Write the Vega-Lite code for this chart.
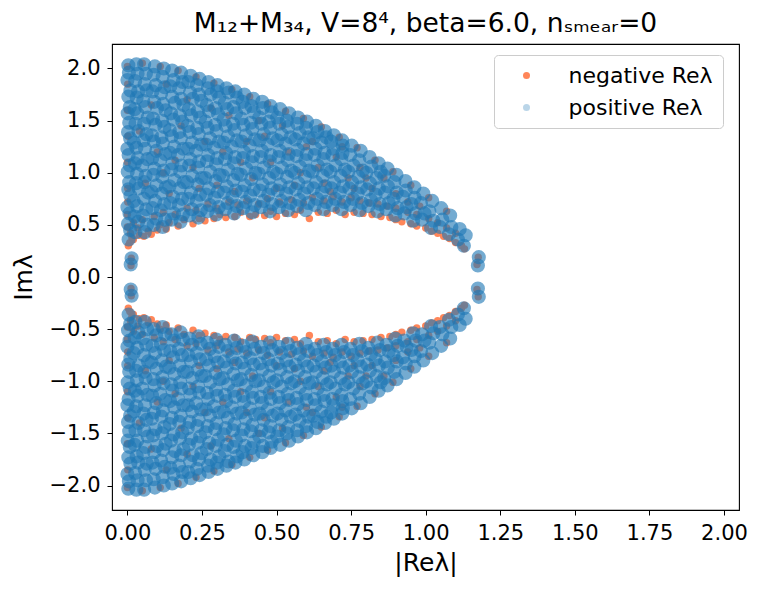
{
"$schema": "https://vega.github.io/schema/vega-lite/v6.json",
"width": 627, "height": 466,
"autosize": {"type": "none"},
"padding": {"left": 112, "top": 44, "right": 23, "bottom": 81},
"background": "white",
"title": {"text": "M₁₂+M₃₄, V=8⁴, beta=6.0, nₛₘₑₐᵣ=0", "font": "DejaVu Sans", "fontSize": 26.5, "fontWeight": "normal", "color": "black", "anchor": "middle", "offset": 7},
"datasets": {
"neg": [
{"x":0.003,"y":0.30},{"x":0.008,"y":0.33},{"x":0.015,"y":0.38},{"x":0.010,"y":0.42},{"x":0.02,"y":0.36},{"x":0.04,"y":0.40},{"x":0.035,"y":0.47},{"x":0.055,"y":0.39},{"x":0.07,"y":0.44},{"x":0.08,"y":0.41},{"x":0.10,"y":0.45},{"x":0.11,"y":0.50},{"x":0.13,"y":0.46},{"x":0.14,"y":0.52},{"x":0.17,"y":0.49},{"x":0.19,"y":0.55},{"x":0.22,"y":0.51},{"x":0.24,"y":0.56},{"x":0.26,"y":0.54},{"x":0.29,"y":0.56},{"x":0.31,"y":0.60},{"x":0.33,"y":0.57},{"x":0.36,"y":0.58},{"x":0.38,"y":0.62},{"x":0.41,"y":0.58},{"x":0.43,"y":0.60},{"x":0.46,"y":0.59},{"x":0.48,"y":0.63},{"x":0.50,"y":0.58},{"x":0.53,"y":0.61},{"x":0.56,"y":0.60},{"x":0.58,"y":0.64},{"x":0.61,"y":0.56},{"x":0.64,"y":0.62},{"x":0.67,"y":0.61},{"x":0.70,"y":0.64},{"x":0.73,"y":0.60},{"x":0.76,"y":0.62},{"x":0.79,"y":0.61},{"x":0.82,"y":0.60},{"x":0.85,"y":0.58},{"x":0.88,"y":0.57},{"x":0.90,"y":0.55},{"x":0.92,"y":0.53},{"x":0.95,"y":0.51},{"x":0.97,"y":0.49},{"x":1.00,"y":0.47},{"x":1.02,"y":0.44},{"x":1.04,"y":0.42},{"x":1.06,"y":0.39},{"x":1.08,"y":0.37},{"x":1.10,"y":0.33},{"x":1.12,"y":0.30},{"x":1.13,"y":0.27},{"x":1.176,"y":0.19},{"x":1.172,"y":0.12},{"x":0.013,"y":0.18},{"x":0.012,"y":0.11},
{"x":0.02,"y":0.52},{"x":0.05,"y":0.55},{"x":0.09,"y":0.58},{"x":0.12,"y":0.62},{"x":0.16,"y":0.60},{"x":0.20,"y":0.66},{"x":0.23,"y":0.64},{"x":0.27,"y":0.70},{"x":0.30,"y":0.66},{"x":0.34,"y":0.72},{"x":0.37,"y":0.69},{"x":0.40,"y":0.73},{"x":0.44,"y":0.70},{"x":0.47,"y":0.75},{"x":0.51,"y":0.72},{"x":0.55,"y":0.74},{"x":0.59,"y":0.71},{"x":0.62,"y":0.76},{"x":0.66,"y":0.73},{"x":0.69,"y":0.77},{"x":0.72,"y":0.72},{"x":0.75,"y":0.76},{"x":0.78,"y":0.73},{"x":0.81,"y":0.71},{"x":0.84,"y":0.70},{"x":0.87,"y":0.68},{"x":0.90,"y":0.66},{"x":0.94,"y":0.62},{"x":0.97,"y":0.60},{"x":1.01,"y":0.56},{"x":1.04,"y":0.52},{"x":1.07,"y":0.47},{"x":1.10,"y":0.42},
{"x":0.00,"y":2.02},{"x":0.05,"y":2.05},{"x":0.11,"y":2.02},{"x":0.17,"y":1.98},{"x":0.23,"y":1.92},{"x":0.29,"y":1.86},{"x":0.35,"y":1.80},{"x":0.41,"y":1.73},{"x":0.47,"y":1.66},{"x":0.53,"y":1.59},{"x":0.59,"y":1.52},{"x":0.65,"y":1.44},{"x":0.71,"y":1.34},{"x":0.77,"y":1.24},{"x":0.83,"y":1.12},{"x":0.89,"y":1.01},{"x":0.95,"y":0.88},{"x":1.01,"y":0.76},{"x":1.07,"y":0.63},
{"x":0.000,"y":0.60},{"x":0.001,"y":0.85},{"x":0.000,"y":1.10},{"x":0.002,"y":1.35},{"x":0.000,"y":1.60},{"x":0.001,"y":1.85},{"x":0.000,"y":0.48},{"x":0.001,"y":0.72},
{"x":0.06,"y":0.90},{"x":0.10,"y":1.20},{"x":0.14,"y":0.80},{"x":0.18,"y":1.45},{"x":0.08,"y":1.65},{"x":0.22,"y":1.05},{"x":0.26,"y":1.30},{"x":0.30,"y":0.88},{"x":0.34,"y":1.55},{"x":0.13,"y":1.85},{"x":0.38,"y":1.10},{"x":0.42,"y":0.95},{"x":0.46,"y":1.35},{"x":0.50,"y":0.85},{"x":0.54,"y":1.20},{"x":0.58,"y":1.00},{"x":0.62,"y":1.30},{"x":0.66,"y":0.90},{"x":0.70,"y":1.15},{"x":0.74,"y":0.95},{"x":0.78,"y":1.05},{"x":0.82,"y":0.85},{"x":0.86,"y":0.95},{"x":0.90,"y":0.80},{"x":0.94,"y":0.72},{"x":0.98,"y":0.68},{"x":0.04,"y":1.40},{"x":0.16,"y":1.12},{"x":0.20,"y":1.70},{"x":0.28,"y":1.62},{"x":0.32,"y":1.20},{"x":0.36,"y":0.82},{"x":0.44,"y":1.50},{"x":0.48,"y":1.10},{"x":0.52,"y":1.45},{"x":0.56,"y":0.88},{"x":0.60,"y":1.25},{"x":0.64,"y":1.05},{"x":0.68,"y":0.82},{"x":0.72,"y":1.25},{"x":0.76,"y":0.85},{"x":0.80,"y":0.95},{"x":0.24,"y":0.85},{"x":0.12,"y":1.00},{"x":0.40,"y":1.30},
{"x":0.003,"y":-0.30},{"x":0.008,"y":-0.33},{"x":0.015,"y":-0.38},{"x":0.010,"y":-0.42},{"x":0.02,"y":-0.36},{"x":0.04,"y":-0.40},{"x":0.035,"y":-0.47},{"x":0.055,"y":-0.39},{"x":0.07,"y":-0.44},{"x":0.08,"y":-0.41},{"x":0.10,"y":-0.45},{"x":0.11,"y":-0.50},{"x":0.13,"y":-0.46},{"x":0.14,"y":-0.52},{"x":0.17,"y":-0.49},{"x":0.19,"y":-0.55},{"x":0.22,"y":-0.51},{"x":0.24,"y":-0.56},{"x":0.26,"y":-0.54},{"x":0.29,"y":-0.56},{"x":0.31,"y":-0.60},{"x":0.33,"y":-0.57},{"x":0.36,"y":-0.58},{"x":0.38,"y":-0.62},{"x":0.41,"y":-0.58},{"x":0.43,"y":-0.60},{"x":0.46,"y":-0.59},{"x":0.48,"y":-0.63},{"x":0.50,"y":-0.58},{"x":0.53,"y":-0.61},{"x":0.56,"y":-0.60},{"x":0.58,"y":-0.64},{"x":0.61,"y":-0.56},{"x":0.64,"y":-0.62},{"x":0.67,"y":-0.61},{"x":0.70,"y":-0.64},{"x":0.73,"y":-0.60},{"x":0.76,"y":-0.62},{"x":0.79,"y":-0.61},{"x":0.82,"y":-0.60},{"x":0.85,"y":-0.58},{"x":0.88,"y":-0.57},{"x":0.90,"y":-0.55},{"x":0.92,"y":-0.53},{"x":0.95,"y":-0.51},{"x":0.97,"y":-0.49},{"x":1.00,"y":-0.47},{"x":1.02,"y":-0.44},{"x":1.04,"y":-0.42},{"x":1.06,"y":-0.39},{"x":1.08,"y":-0.37},{"x":1.10,"y":-0.33},{"x":1.12,"y":-0.30},{"x":1.13,"y":-0.27},{"x":1.176,"y":-0.19},{"x":1.172,"y":-0.12},{"x":0.013,"y":-0.18},{"x":0.012,"y":-0.11},
{"x":0.02,"y":-0.52},{"x":0.05,"y":-0.55},{"x":0.09,"y":-0.58},{"x":0.12,"y":-0.62},{"x":0.16,"y":-0.60},{"x":0.20,"y":-0.66},{"x":0.23,"y":-0.64},{"x":0.27,"y":-0.70},{"x":0.30,"y":-0.66},{"x":0.34,"y":-0.72},{"x":0.37,"y":-0.69},{"x":0.40,"y":-0.73},{"x":0.44,"y":-0.70},{"x":0.47,"y":-0.75},{"x":0.51,"y":-0.72},{"x":0.55,"y":-0.74},{"x":0.59,"y":-0.71},{"x":0.62,"y":-0.76},{"x":0.66,"y":-0.73},{"x":0.69,"y":-0.77},{"x":0.72,"y":-0.72},{"x":0.75,"y":-0.76},{"x":0.78,"y":-0.73},{"x":0.81,"y":-0.71},{"x":0.84,"y":-0.70},{"x":0.87,"y":-0.68},{"x":0.90,"y":-0.66},{"x":0.94,"y":-0.62},{"x":0.97,"y":-0.60},{"x":1.01,"y":-0.56},{"x":1.04,"y":-0.52},{"x":1.07,"y":-0.47},{"x":1.10,"y":-0.42},
{"x":0.00,"y":-2.02},{"x":0.05,"y":-2.05},{"x":0.11,"y":-2.02},{"x":0.17,"y":-1.98},{"x":0.23,"y":-1.92},{"x":0.29,"y":-1.86},{"x":0.35,"y":-1.80},{"x":0.41,"y":-1.73},{"x":0.47,"y":-1.66},{"x":0.53,"y":-1.59},{"x":0.59,"y":-1.52},{"x":0.65,"y":-1.44},{"x":0.71,"y":-1.34},{"x":0.77,"y":-1.24},{"x":0.83,"y":-1.12},{"x":0.89,"y":-1.01},{"x":0.95,"y":-0.88},{"x":1.01,"y":-0.76},{"x":1.07,"y":-0.63},
{"x":0.000,"y":-0.60},{"x":0.001,"y":-0.85},{"x":0.000,"y":-1.10},{"x":0.002,"y":-1.35},{"x":0.000,"y":-1.60},{"x":0.001,"y":-1.85},{"x":0.000,"y":-0.48},{"x":0.001,"y":-0.72},
{"x":0.06,"y":-0.90},{"x":0.10,"y":-1.20},{"x":0.14,"y":-0.80},{"x":0.18,"y":-1.45},{"x":0.08,"y":-1.65},{"x":0.22,"y":-1.05},{"x":0.26,"y":-1.30},{"x":0.30,"y":-0.88},{"x":0.34,"y":-1.55},{"x":0.13,"y":-1.85},{"x":0.38,"y":-1.10},{"x":0.42,"y":-0.95},{"x":0.46,"y":-1.35},{"x":0.50,"y":-0.85},{"x":0.54,"y":-1.20},{"x":0.58,"y":-1.00},{"x":0.62,"y":-1.30},{"x":0.66,"y":-0.90},{"x":0.70,"y":-1.15},{"x":0.74,"y":-0.95},{"x":0.78,"y":-1.05},{"x":0.82,"y":-0.85},{"x":0.86,"y":-0.95},{"x":0.90,"y":-0.80},{"x":0.94,"y":-0.72},{"x":0.98,"y":-0.68},{"x":0.04,"y":-1.40},{"x":0.16,"y":-1.12},{"x":0.20,"y":-1.70},{"x":0.28,"y":-1.62},{"x":0.32,"y":-1.20},{"x":0.36,"y":-0.82},{"x":0.44,"y":-1.50},{"x":0.48,"y":-1.10},{"x":0.52,"y":-1.45},{"x":0.56,"y":-0.88},{"x":0.60,"y":-1.25},{"x":0.64,"y":-1.05},{"x":0.68,"y":-0.82},{"x":0.72,"y":-1.25},{"x":0.76,"y":-0.85},{"x":0.80,"y":-0.95},{"x":0.24,"y":-0.85},{"x":0.12,"y":-1.00},{"x":0.40,"y":-1.30}
],
"pos": [
{"x":0.004,"y":0.36},{"x":0.009,"y":0.45},{"x":0.002,"y":0.51},{"x":0.007,"y":0.61},{"x":0.000,"y":0.67},{"x":0.010,"y":0.78},{"x":0.003,"y":0.84},{"x":0.006,"y":0.91},{"x":0.001,"y":1.01},{"x":0.008,"y":1.07},{"x":0.004,"y":1.17},{"x":0.000,"y":1.23},{"x":0.009,"y":1.33},{"x":0.002,"y":1.39},{"x":0.006,"y":1.48},{"x":0.001,"y":1.57},{"x":0.008,"y":1.63},{"x":0.003,"y":1.73},{"x":0.010,"y":1.79},{"x":0.000,"y":1.89},{"x":0.005,"y":1.96},{"x":0.003,"y":2.03},
{"x":0.027,"y":0.43},{"x":0.036,"y":0.53},{"x":0.024,"y":0.58},{"x":0.033,"y":0.68},{"x":0.021,"y":0.73},{"x":0.038,"y":0.85},{"x":0.029,"y":0.90},{"x":0.032,"y":0.99},{"x":0.025,"y":1.09},{"x":0.035,"y":1.14},{"x":0.030,"y":1.24},{"x":0.022,"y":1.29},{"x":0.037,"y":1.40},{"x":0.027,"y":1.47},{"x":0.033,"y":1.57},{"x":0.024,"y":1.61},{"x":0.031,"y":1.72},{"x":0.036,"y":1.78},{"x":0.026,"y":1.88},{"x":0.034,"y":1.95},{"x":0.030,"y":2.04},
{"x":0.058,"y":0.43},{"x":0.066,"y":0.50},{"x":0.052,"y":0.59},{"x":0.063,"y":0.65},{"x":0.055,"y":0.75},{"x":0.069,"y":0.81},{"x":0.057,"y":0.91},{"x":0.061,"y":0.97},{"x":0.050,"y":1.07},{"x":0.067,"y":1.13},{"x":0.059,"y":1.23},{"x":0.054,"y":1.31},{"x":0.064,"y":1.37},{"x":0.056,"y":1.47},{"x":0.068,"y":1.53},{"x":0.060,"y":1.63},{"x":0.053,"y":1.69},{"x":0.065,"y":1.79},{"x":0.058,"y":1.85},{"x":0.062,"y":1.95},{"x":0.056,"y":2.04},
{"x":0.088,"y":0.50},{"x":0.096,"y":0.56},{"x":0.084,"y":0.66},{"x":0.093,"y":0.73},{"x":0.081,"y":0.82},{"x":0.098,"y":0.88},{"x":0.087,"y":0.98},{"x":0.091,"y":1.04},{"x":0.083,"y":1.14},{"x":0.097,"y":1.21},{"x":0.089,"y":1.30},{"x":0.082,"y":1.36},{"x":0.094,"y":1.46},{"x":0.086,"y":1.52},{"x":0.099,"y":1.62},{"x":0.090,"y":1.68},{"x":0.084,"y":1.78},{"x":0.095,"y":1.84},{"x":0.088,"y":1.94},{"x":0.092,"y":2.02},
{"x":0.118,"y":0.48},{"x":0.126,"y":0.55},{"x":0.112,"y":0.64},{"x":0.123,"y":0.70},{"x":0.115,"y":0.80},{"x":0.129,"y":0.86},{"x":0.117,"y":0.96},{"x":0.121,"y":1.02},{"x":0.110,"y":1.12},{"x":0.127,"y":1.18},{"x":0.119,"y":1.28},{"x":0.114,"y":1.34},{"x":0.124,"y":1.44},{"x":0.116,"y":1.50},{"x":0.128,"y":1.60},{"x":0.120,"y":1.66},{"x":0.113,"y":1.76},{"x":0.125,"y":1.82},{"x":0.118,"y":1.92},{"x":0.122,"y":2.00},
{"x":0.148,"y":0.55},{"x":0.156,"y":0.61},{"x":0.144,"y":0.71},{"x":0.153,"y":0.77},{"x":0.141,"y":0.87},{"x":0.158,"y":0.93},{"x":0.147,"y":1.03},{"x":0.151,"y":1.09},{"x":0.143,"y":1.19},{"x":0.157,"y":1.25},{"x":0.149,"y":1.35},{"x":0.142,"y":1.41},{"x":0.154,"y":1.51},{"x":0.146,"y":1.57},{"x":0.159,"y":1.67},{"x":0.150,"y":1.73},{"x":0.144,"y":1.83},{"x":0.155,"y":1.89},{"x":0.150,"y":1.98},
{"x":0.178,"y":0.53},{"x":0.186,"y":0.60},{"x":0.172,"y":0.69},{"x":0.183,"y":0.75},{"x":0.175,"y":0.85},{"x":0.189,"y":0.91},{"x":0.177,"y":1.01},{"x":0.181,"y":1.07},{"x":0.170,"y":1.17},{"x":0.187,"y":1.23},{"x":0.179,"y":1.33},{"x":0.174,"y":1.39},{"x":0.184,"y":1.49},{"x":0.176,"y":1.55},{"x":0.188,"y":1.65},{"x":0.180,"y":1.71},{"x":0.173,"y":1.81},{"x":0.185,"y":1.87},{"x":0.180,"y":1.96},
{"x":0.208,"y":0.59},{"x":0.216,"y":0.65},{"x":0.204,"y":0.75},{"x":0.213,"y":0.81},{"x":0.201,"y":0.91},{"x":0.218,"y":0.97},{"x":0.207,"y":1.07},{"x":0.211,"y":1.13},{"x":0.203,"y":1.23},{"x":0.217,"y":1.29},{"x":0.209,"y":1.39},{"x":0.202,"y":1.45},{"x":0.214,"y":1.55},{"x":0.206,"y":1.61},{"x":0.219,"y":1.71},{"x":0.210,"y":1.77},{"x":0.204,"y":1.87},{"x":0.212,"y":1.93},
{"x":0.238,"y":0.57},{"x":0.246,"y":0.64},{"x":0.232,"y":0.73},{"x":0.243,"y":0.79},{"x":0.235,"y":0.89},{"x":0.249,"y":0.95},{"x":0.237,"y":1.05},{"x":0.241,"y":1.11},{"x":0.230,"y":1.21},{"x":0.247,"y":1.27},{"x":0.239,"y":1.37},{"x":0.234,"y":1.43},{"x":0.244,"y":1.53},{"x":0.236,"y":1.59},{"x":0.248,"y":1.69},{"x":0.240,"y":1.75},{"x":0.233,"y":1.84},{"x":0.242,"y":1.90},
{"x":0.268,"y":0.63},{"x":0.276,"y":0.69},{"x":0.264,"y":0.79},{"x":0.273,"y":0.85},{"x":0.261,"y":0.95},{"x":0.278,"y":1.01},{"x":0.267,"y":1.11},{"x":0.271,"y":1.17},{"x":0.263,"y":1.27},{"x":0.277,"y":1.33},{"x":0.269,"y":1.43},{"x":0.262,"y":1.49},{"x":0.274,"y":1.59},{"x":0.266,"y":1.65},{"x":0.279,"y":1.75},{"x":0.270,"y":1.81},{"x":0.272,"y":1.87},
{"x":0.298,"y":0.60},{"x":0.306,"y":0.67},{"x":0.292,"y":0.76},{"x":0.303,"y":0.82},{"x":0.295,"y":0.92},{"x":0.309,"y":0.98},{"x":0.297,"y":1.08},{"x":0.301,"y":1.14},{"x":0.290,"y":1.24},{"x":0.307,"y":1.30},{"x":0.299,"y":1.40},{"x":0.294,"y":1.46},{"x":0.304,"y":1.56},{"x":0.296,"y":1.62},{"x":0.308,"y":1.72},{"x":0.300,"y":1.78},{"x":0.302,"y":1.84},
{"x":0.328,"y":0.65},{"x":0.336,"y":0.71},{"x":0.324,"y":0.81},{"x":0.333,"y":0.87},{"x":0.321,"y":0.97},{"x":0.338,"y":1.03},{"x":0.327,"y":1.13},{"x":0.331,"y":1.19},{"x":0.323,"y":1.29},{"x":0.337,"y":1.35},{"x":0.329,"y":1.45},{"x":0.322,"y":1.51},{"x":0.334,"y":1.61},{"x":0.326,"y":1.67},{"x":0.339,"y":1.77},{"x":0.332,"y":1.81},
{"x":0.358,"y":0.61},{"x":0.366,"y":0.68},{"x":0.352,"y":0.77},{"x":0.363,"y":0.83},{"x":0.355,"y":0.93},{"x":0.369,"y":0.99},{"x":0.357,"y":1.09},{"x":0.361,"y":1.15},{"x":0.350,"y":1.25},{"x":0.367,"y":1.31},{"x":0.359,"y":1.41},{"x":0.354,"y":1.47},{"x":0.364,"y":1.57},{"x":0.356,"y":1.63},{"x":0.368,"y":1.72},{"x":0.362,"y":1.78},
{"x":0.388,"y":0.66},{"x":0.396,"y":0.72},{"x":0.384,"y":0.82},{"x":0.393,"y":0.88},{"x":0.381,"y":0.98},{"x":0.398,"y":1.04},{"x":0.387,"y":1.14},{"x":0.391,"y":1.20},{"x":0.383,"y":1.30},{"x":0.397,"y":1.36},{"x":0.389,"y":1.46},{"x":0.382,"y":1.52},{"x":0.394,"y":1.62},{"x":0.386,"y":1.68},{"x":0.392,"y":1.75},
{"x":0.418,"y":0.62},{"x":0.426,"y":0.69},{"x":0.412,"y":0.78},{"x":0.423,"y":0.84},{"x":0.415,"y":0.94},{"x":0.429,"y":1.00},{"x":0.417,"y":1.10},{"x":0.421,"y":1.16},{"x":0.410,"y":1.26},{"x":0.427,"y":1.32},{"x":0.419,"y":1.42},{"x":0.414,"y":1.48},{"x":0.424,"y":1.58},{"x":0.416,"y":1.64},{"x":0.422,"y":1.71},
{"x":0.448,"y":0.67},{"x":0.456,"y":0.73},{"x":0.444,"y":0.83},{"x":0.453,"y":0.89},{"x":0.441,"y":0.99},{"x":0.458,"y":1.05},{"x":0.447,"y":1.15},{"x":0.451,"y":1.21},{"x":0.443,"y":1.31},{"x":0.457,"y":1.37},{"x":0.449,"y":1.47},{"x":0.442,"y":1.53},{"x":0.454,"y":1.62},{"x":0.452,"y":1.68},
{"x":0.478,"y":0.63},{"x":0.486,"y":0.70},{"x":0.472,"y":0.79},{"x":0.483,"y":0.85},{"x":0.475,"y":0.95},{"x":0.489,"y":1.01},{"x":0.477,"y":1.11},{"x":0.481,"y":1.17},{"x":0.470,"y":1.27},{"x":0.487,"y":1.33},{"x":0.479,"y":1.43},{"x":0.474,"y":1.49},{"x":0.484,"y":1.58},{"x":0.480,"y":1.64},
{"x":0.508,"y":0.67},{"x":0.516,"y":0.73},{"x":0.504,"y":0.83},{"x":0.513,"y":0.89},{"x":0.501,"y":0.99},{"x":0.518,"y":1.05},{"x":0.507,"y":1.15},{"x":0.511,"y":1.21},{"x":0.503,"y":1.31},{"x":0.517,"y":1.37},{"x":0.509,"y":1.47},{"x":0.502,"y":1.53},{"x":0.512,"y":1.61},
{"x":0.538,"y":0.64},{"x":0.546,"y":0.71},{"x":0.532,"y":0.80},{"x":0.543,"y":0.86},{"x":0.535,"y":0.96},{"x":0.549,"y":1.02},{"x":0.537,"y":1.12},{"x":0.541,"y":1.18},{"x":0.530,"y":1.28},{"x":0.547,"y":1.34},{"x":0.539,"y":1.44},{"x":0.534,"y":1.50},{"x":0.542,"y":1.57},
{"x":0.568,"y":0.68},{"x":0.576,"y":0.74},{"x":0.564,"y":0.84},{"x":0.573,"y":0.90},{"x":0.561,"y":1.00},{"x":0.578,"y":1.06},{"x":0.567,"y":1.16},{"x":0.571,"y":1.22},{"x":0.563,"y":1.32},{"x":0.577,"y":1.38},{"x":0.569,"y":1.47},{"x":0.572,"y":1.53},
{"x":0.598,"y":0.64},{"x":0.606,"y":0.71},{"x":0.592,"y":0.80},{"x":0.603,"y":0.86},{"x":0.595,"y":0.96},{"x":0.609,"y":1.02},{"x":0.597,"y":1.12},{"x":0.601,"y":1.18},{"x":0.590,"y":1.28},{"x":0.607,"y":1.34},{"x":0.599,"y":1.43},{"x":0.602,"y":1.49},
{"x":0.628,"y":0.69},{"x":0.636,"y":0.75},{"x":0.624,"y":0.85},{"x":0.633,"y":0.91},{"x":0.621,"y":1.01},{"x":0.638,"y":1.07},{"x":0.627,"y":1.17},{"x":0.631,"y":1.23},{"x":0.623,"y":1.33},{"x":0.637,"y":1.39},{"x":0.632,"y":1.45},
{"x":0.658,"y":0.65},{"x":0.666,"y":0.72},{"x":0.652,"y":0.81},{"x":0.663,"y":0.87},{"x":0.655,"y":0.97},{"x":0.669,"y":1.03},{"x":0.657,"y":1.13},{"x":0.661,"y":1.19},{"x":0.650,"y":1.29},{"x":0.667,"y":1.34},{"x":0.662,"y":1.40},
{"x":0.688,"y":0.69},{"x":0.696,"y":0.75},{"x":0.684,"y":0.85},{"x":0.693,"y":0.91},{"x":0.681,"y":1.01},{"x":0.698,"y":1.07},{"x":0.687,"y":1.17},{"x":0.691,"y":1.23},{"x":0.683,"y":1.30},{"x":0.692,"y":1.36},
{"x":0.718,"y":0.65},{"x":0.726,"y":0.72},{"x":0.712,"y":0.81},{"x":0.723,"y":0.87},{"x":0.715,"y":0.97},{"x":0.729,"y":1.03},{"x":0.717,"y":1.13},{"x":0.721,"y":1.19},{"x":0.722,"y":1.26},{"x":0.720,"y":1.31},
{"x":0.748,"y":0.69},{"x":0.756,"y":0.75},{"x":0.744,"y":0.85},{"x":0.753,"y":0.91},{"x":0.741,"y":1.01},{"x":0.758,"y":1.07},{"x":0.747,"y":1.17},{"x":0.752,"y":1.26},
{"x":0.778,"y":0.64},{"x":0.786,"y":0.71},{"x":0.772,"y":0.80},{"x":0.783,"y":0.86},{"x":0.775,"y":0.96},{"x":0.789,"y":1.02},{"x":0.777,"y":1.12},{"x":0.782,"y":1.21},
{"x":0.808,"y":0.68},{"x":0.816,"y":0.74},{"x":0.804,"y":0.84},{"x":0.813,"y":0.90},{"x":0.801,"y":1.00},{"x":0.818,"y":1.06},{"x":0.812,"y":1.15},
{"x":0.838,"y":0.63},{"x":0.846,"y":0.70},{"x":0.832,"y":0.79},{"x":0.843,"y":0.85},{"x":0.835,"y":0.95},{"x":0.849,"y":1.01},{"x":0.842,"y":1.09},
{"x":0.868,"y":0.65},{"x":0.876,"y":0.71},{"x":0.864,"y":0.81},{"x":0.873,"y":0.87},{"x":0.861,"y":0.97},{"x":0.872,"y":1.04},
{"x":0.898,"y":0.59},{"x":0.906,"y":0.66},{"x":0.892,"y":0.75},{"x":0.903,"y":0.81},{"x":0.895,"y":0.91},{"x":0.902,"y":0.98},
{"x":0.928,"y":0.61},{"x":0.936,"y":0.67},{"x":0.924,"y":0.77},{"x":0.933,"y":0.83},{"x":0.932,"y":0.92},
{"x":0.958,"y":0.54},{"x":0.966,"y":0.61},{"x":0.952,"y":0.70},{"x":0.963,"y":0.76},{"x":0.962,"y":0.86},
{"x":0.988,"y":0.55},{"x":0.996,"y":0.61},{"x":0.984,"y":0.71},{"x":0.992,"y":0.80},
{"x":1.018,"y":0.47},{"x":1.026,"y":0.54},{"x":1.012,"y":0.63},{"x":1.022,"y":0.73},
{"x":1.048,"y":0.48},{"x":1.056,"y":0.55},{"x":1.052,"y":0.66},
{"x":1.078,"y":0.41},{"x":1.086,"y":0.48},{"x":1.082,"y":0.59},
{"x":1.108,"y":0.36},{"x":1.114,"y":0.46},{"x":1.128,"y":0.30},{"x":1.134,"y":0.40},
{"x":1.178,"y":0.19},{"x":1.175,"y":0.11},{"x":0.014,"y":0.18},{"x":0.011,"y":0.12},
{"x":0.004,"y":-0.36},{"x":0.009,"y":-0.45},{"x":0.002,"y":-0.51},{"x":0.007,"y":-0.61},{"x":0.000,"y":-0.67},{"x":0.010,"y":-0.78},{"x":0.003,"y":-0.84},{"x":0.006,"y":-0.91},{"x":0.001,"y":-1.01},{"x":0.008,"y":-1.07},{"x":0.004,"y":-1.17},{"x":0.000,"y":-1.23},{"x":0.009,"y":-1.33},{"x":0.002,"y":-1.39},{"x":0.006,"y":-1.48},{"x":0.001,"y":-1.57},{"x":0.008,"y":-1.63},{"x":0.003,"y":-1.73},{"x":0.010,"y":-1.79},{"x":0.000,"y":-1.89},{"x":0.005,"y":-1.96},{"x":0.003,"y":-2.03},
{"x":0.027,"y":-0.43},{"x":0.036,"y":-0.53},{"x":0.024,"y":-0.58},{"x":0.033,"y":-0.68},{"x":0.021,"y":-0.73},{"x":0.038,"y":-0.85},{"x":0.029,"y":-0.90},{"x":0.032,"y":-0.99},{"x":0.025,"y":-1.09},{"x":0.035,"y":-1.14},{"x":0.030,"y":-1.24},{"x":0.022,"y":-1.29},{"x":0.037,"y":-1.40},{"x":0.027,"y":-1.47},{"x":0.033,"y":-1.57},{"x":0.024,"y":-1.61},{"x":0.031,"y":-1.72},{"x":0.036,"y":-1.78},{"x":0.026,"y":-1.88},{"x":0.034,"y":-1.95},{"x":0.030,"y":-2.04},
{"x":0.058,"y":-0.43},{"x":0.066,"y":-0.50},{"x":0.052,"y":-0.59},{"x":0.063,"y":-0.65},{"x":0.055,"y":-0.75},{"x":0.069,"y":-0.81},{"x":0.057,"y":-0.91},{"x":0.061,"y":-0.97},{"x":0.050,"y":-1.07},{"x":0.067,"y":-1.13},{"x":0.059,"y":-1.23},{"x":0.054,"y":-1.31},{"x":0.064,"y":-1.37},{"x":0.056,"y":-1.47},{"x":0.068,"y":-1.53},{"x":0.060,"y":-1.63},{"x":0.053,"y":-1.69},{"x":0.065,"y":-1.79},{"x":0.058,"y":-1.85},{"x":0.062,"y":-1.95},{"x":0.056,"y":-2.04},
{"x":0.088,"y":-0.50},{"x":0.096,"y":-0.56},{"x":0.084,"y":-0.66},{"x":0.093,"y":-0.73},{"x":0.081,"y":-0.82},{"x":0.098,"y":-0.88},{"x":0.087,"y":-0.98},{"x":0.091,"y":-1.04},{"x":0.083,"y":-1.14},{"x":0.097,"y":-1.21},{"x":0.089,"y":-1.30},{"x":0.082,"y":-1.36},{"x":0.094,"y":-1.46},{"x":0.086,"y":-1.52},{"x":0.099,"y":-1.62},{"x":0.090,"y":-1.68},{"x":0.084,"y":-1.78},{"x":0.095,"y":-1.84},{"x":0.088,"y":-1.94},{"x":0.092,"y":-2.02},
{"x":0.118,"y":-0.48},{"x":0.126,"y":-0.55},{"x":0.112,"y":-0.64},{"x":0.123,"y":-0.70},{"x":0.115,"y":-0.80},{"x":0.129,"y":-0.86},{"x":0.117,"y":-0.96},{"x":0.121,"y":-1.02},{"x":0.110,"y":-1.12},{"x":0.127,"y":-1.18},{"x":0.119,"y":-1.28},{"x":0.114,"y":-1.34},{"x":0.124,"y":-1.44},{"x":0.116,"y":-1.50},{"x":0.128,"y":-1.60},{"x":0.120,"y":-1.66},{"x":0.113,"y":-1.76},{"x":0.125,"y":-1.82},{"x":0.118,"y":-1.92},{"x":0.122,"y":-2.00},
{"x":0.148,"y":-0.55},{"x":0.156,"y":-0.61},{"x":0.144,"y":-0.71},{"x":0.153,"y":-0.77},{"x":0.141,"y":-0.87},{"x":0.158,"y":-0.93},{"x":0.147,"y":-1.03},{"x":0.151,"y":-1.09},{"x":0.143,"y":-1.19},{"x":0.157,"y":-1.25},{"x":0.149,"y":-1.35},{"x":0.142,"y":-1.41},{"x":0.154,"y":-1.51},{"x":0.146,"y":-1.57},{"x":0.159,"y":-1.67},{"x":0.150,"y":-1.73},{"x":0.144,"y":-1.83},{"x":0.155,"y":-1.89},{"x":0.150,"y":-1.98},
{"x":0.178,"y":-0.53},{"x":0.186,"y":-0.60},{"x":0.172,"y":-0.69},{"x":0.183,"y":-0.75},{"x":0.175,"y":-0.85},{"x":0.189,"y":-0.91},{"x":0.177,"y":-1.01},{"x":0.181,"y":-1.07},{"x":0.170,"y":-1.17},{"x":0.187,"y":-1.23},{"x":0.179,"y":-1.33},{"x":0.174,"y":-1.39},{"x":0.184,"y":-1.49},{"x":0.176,"y":-1.55},{"x":0.188,"y":-1.65},{"x":0.180,"y":-1.71},{"x":0.173,"y":-1.81},{"x":0.185,"y":-1.87},{"x":0.180,"y":-1.96},
{"x":0.208,"y":-0.59},{"x":0.216,"y":-0.65},{"x":0.204,"y":-0.75},{"x":0.213,"y":-0.81},{"x":0.201,"y":-0.91},{"x":0.218,"y":-0.97},{"x":0.207,"y":-1.07},{"x":0.211,"y":-1.13},{"x":0.203,"y":-1.23},{"x":0.217,"y":-1.29},{"x":0.209,"y":-1.39},{"x":0.202,"y":-1.45},{"x":0.214,"y":-1.55},{"x":0.206,"y":-1.61},{"x":0.219,"y":-1.71},{"x":0.210,"y":-1.77},{"x":0.204,"y":-1.87},{"x":0.212,"y":-1.93},
{"x":0.238,"y":-0.57},{"x":0.246,"y":-0.64},{"x":0.232,"y":-0.73},{"x":0.243,"y":-0.79},{"x":0.235,"y":-0.89},{"x":0.249,"y":-0.95},{"x":0.237,"y":-1.05},{"x":0.241,"y":-1.11},{"x":0.230,"y":-1.21},{"x":0.247,"y":-1.27},{"x":0.239,"y":-1.37},{"x":0.234,"y":-1.43},{"x":0.244,"y":-1.53},{"x":0.236,"y":-1.59},{"x":0.248,"y":-1.69},{"x":0.240,"y":-1.75},{"x":0.233,"y":-1.84},{"x":0.242,"y":-1.90},
{"x":0.268,"y":-0.63},{"x":0.276,"y":-0.69},{"x":0.264,"y":-0.79},{"x":0.273,"y":-0.85},{"x":0.261,"y":-0.95},{"x":0.278,"y":-1.01},{"x":0.267,"y":-1.11},{"x":0.271,"y":-1.17},{"x":0.263,"y":-1.27},{"x":0.277,"y":-1.33},{"x":0.269,"y":-1.43},{"x":0.262,"y":-1.49},{"x":0.274,"y":-1.59},{"x":0.266,"y":-1.65},{"x":0.279,"y":-1.75},{"x":0.270,"y":-1.81},{"x":0.272,"y":-1.87},
{"x":0.298,"y":-0.60},{"x":0.306,"y":-0.67},{"x":0.292,"y":-0.76},{"x":0.303,"y":-0.82},{"x":0.295,"y":-0.92},{"x":0.309,"y":-0.98},{"x":0.297,"y":-1.08},{"x":0.301,"y":-1.14},{"x":0.290,"y":-1.24},{"x":0.307,"y":-1.30},{"x":0.299,"y":-1.40},{"x":0.294,"y":-1.46},{"x":0.304,"y":-1.56},{"x":0.296,"y":-1.62},{"x":0.308,"y":-1.72},{"x":0.300,"y":-1.78},{"x":0.302,"y":-1.84},
{"x":0.328,"y":-0.65},{"x":0.336,"y":-0.71},{"x":0.324,"y":-0.81},{"x":0.333,"y":-0.87},{"x":0.321,"y":-0.97},{"x":0.338,"y":-1.03},{"x":0.327,"y":-1.13},{"x":0.331,"y":-1.19},{"x":0.323,"y":-1.29},{"x":0.337,"y":-1.35},{"x":0.329,"y":-1.45},{"x":0.322,"y":-1.51},{"x":0.334,"y":-1.61},{"x":0.326,"y":-1.67},{"x":0.339,"y":-1.77},{"x":0.332,"y":-1.81},
{"x":0.358,"y":-0.61},{"x":0.366,"y":-0.68},{"x":0.352,"y":-0.77},{"x":0.363,"y":-0.83},{"x":0.355,"y":-0.93},{"x":0.369,"y":-0.99},{"x":0.357,"y":-1.09},{"x":0.361,"y":-1.15},{"x":0.350,"y":-1.25},{"x":0.367,"y":-1.31},{"x":0.359,"y":-1.41},{"x":0.354,"y":-1.47},{"x":0.364,"y":-1.57},{"x":0.356,"y":-1.63},{"x":0.368,"y":-1.72},{"x":0.362,"y":-1.78},
{"x":0.388,"y":-0.66},{"x":0.396,"y":-0.72},{"x":0.384,"y":-0.82},{"x":0.393,"y":-0.88},{"x":0.381,"y":-0.98},{"x":0.398,"y":-1.04},{"x":0.387,"y":-1.14},{"x":0.391,"y":-1.20},{"x":0.383,"y":-1.30},{"x":0.397,"y":-1.36},{"x":0.389,"y":-1.46},{"x":0.382,"y":-1.52},{"x":0.394,"y":-1.62},{"x":0.386,"y":-1.68},{"x":0.392,"y":-1.75},
{"x":0.418,"y":-0.62},{"x":0.426,"y":-0.69},{"x":0.412,"y":-0.78},{"x":0.423,"y":-0.84},{"x":0.415,"y":-0.94},{"x":0.429,"y":-1.00},{"x":0.417,"y":-1.10},{"x":0.421,"y":-1.16},{"x":0.410,"y":-1.26},{"x":0.427,"y":-1.32},{"x":0.419,"y":-1.42},{"x":0.414,"y":-1.48},{"x":0.424,"y":-1.58},{"x":0.416,"y":-1.64},{"x":0.422,"y":-1.71},
{"x":0.448,"y":-0.67},{"x":0.456,"y":-0.73},{"x":0.444,"y":-0.83},{"x":0.453,"y":-0.89},{"x":0.441,"y":-0.99},{"x":0.458,"y":-1.05},{"x":0.447,"y":-1.15},{"x":0.451,"y":-1.21},{"x":0.443,"y":-1.31},{"x":0.457,"y":-1.37},{"x":0.449,"y":-1.47},{"x":0.442,"y":-1.53},{"x":0.454,"y":-1.62},{"x":0.452,"y":-1.68},
{"x":0.478,"y":-0.63},{"x":0.486,"y":-0.70},{"x":0.472,"y":-0.79},{"x":0.483,"y":-0.85},{"x":0.475,"y":-0.95},{"x":0.489,"y":-1.01},{"x":0.477,"y":-1.11},{"x":0.481,"y":-1.17},{"x":0.470,"y":-1.27},{"x":0.487,"y":-1.33},{"x":0.479,"y":-1.43},{"x":0.474,"y":-1.49},{"x":0.484,"y":-1.58},{"x":0.480,"y":-1.64},
{"x":0.508,"y":-0.67},{"x":0.516,"y":-0.73},{"x":0.504,"y":-0.83},{"x":0.513,"y":-0.89},{"x":0.501,"y":-0.99},{"x":0.518,"y":-1.05},{"x":0.507,"y":-1.15},{"x":0.511,"y":-1.21},{"x":0.503,"y":-1.31},{"x":0.517,"y":-1.37},{"x":0.509,"y":-1.47},{"x":0.502,"y":-1.53},{"x":0.512,"y":-1.61},
{"x":0.538,"y":-0.64},{"x":0.546,"y":-0.71},{"x":0.532,"y":-0.80},{"x":0.543,"y":-0.86},{"x":0.535,"y":-0.96},{"x":0.549,"y":-1.02},{"x":0.537,"y":-1.12},{"x":0.541,"y":-1.18},{"x":0.530,"y":-1.28},{"x":0.547,"y":-1.34},{"x":0.539,"y":-1.44},{"x":0.534,"y":-1.50},{"x":0.542,"y":-1.57},
{"x":0.568,"y":-0.68},{"x":0.576,"y":-0.74},{"x":0.564,"y":-0.84},{"x":0.573,"y":-0.90},{"x":0.561,"y":-1.00},{"x":0.578,"y":-1.06},{"x":0.567,"y":-1.16},{"x":0.571,"y":-1.22},{"x":0.563,"y":-1.32},{"x":0.577,"y":-1.38},{"x":0.569,"y":-1.47},{"x":0.572,"y":-1.53},
{"x":0.598,"y":-0.64},{"x":0.606,"y":-0.71},{"x":0.592,"y":-0.80},{"x":0.603,"y":-0.86},{"x":0.595,"y":-0.96},{"x":0.609,"y":-1.02},{"x":0.597,"y":-1.12},{"x":0.601,"y":-1.18},{"x":0.590,"y":-1.28},{"x":0.607,"y":-1.34},{"x":0.599,"y":-1.43},{"x":0.602,"y":-1.49},
{"x":0.628,"y":-0.69},{"x":0.636,"y":-0.75},{"x":0.624,"y":-0.85},{"x":0.633,"y":-0.91},{"x":0.621,"y":-1.01},{"x":0.638,"y":-1.07},{"x":0.627,"y":-1.17},{"x":0.631,"y":-1.23},{"x":0.623,"y":-1.33},{"x":0.637,"y":-1.39},{"x":0.632,"y":-1.45},
{"x":0.658,"y":-0.65},{"x":0.666,"y":-0.72},{"x":0.652,"y":-0.81},{"x":0.663,"y":-0.87},{"x":0.655,"y":-0.97},{"x":0.669,"y":-1.03},{"x":0.657,"y":-1.13},{"x":0.661,"y":-1.19},{"x":0.650,"y":-1.29},{"x":0.667,"y":-1.34},{"x":0.662,"y":-1.40},
{"x":0.688,"y":-0.69},{"x":0.696,"y":-0.75},{"x":0.684,"y":-0.85},{"x":0.693,"y":-0.91},{"x":0.681,"y":-1.01},{"x":0.698,"y":-1.07},{"x":0.687,"y":-1.17},{"x":0.691,"y":-1.23},{"x":0.683,"y":-1.30},{"x":0.692,"y":-1.36},
{"x":0.718,"y":-0.65},{"x":0.726,"y":-0.72},{"x":0.712,"y":-0.81},{"x":0.723,"y":-0.87},{"x":0.715,"y":-0.97},{"x":0.729,"y":-1.03},{"x":0.717,"y":-1.13},{"x":0.721,"y":-1.19},{"x":0.722,"y":-1.26},{"x":0.720,"y":-1.31},
{"x":0.748,"y":-0.69},{"x":0.756,"y":-0.75},{"x":0.744,"y":-0.85},{"x":0.753,"y":-0.91},{"x":0.741,"y":-1.01},{"x":0.758,"y":-1.07},{"x":0.747,"y":-1.17},{"x":0.752,"y":-1.26},
{"x":0.778,"y":-0.64},{"x":0.786,"y":-0.71},{"x":0.772,"y":-0.80},{"x":0.783,"y":-0.86},{"x":0.775,"y":-0.96},{"x":0.789,"y":-1.02},{"x":0.777,"y":-1.12},{"x":0.782,"y":-1.21},
{"x":0.808,"y":-0.68},{"x":0.816,"y":-0.74},{"x":0.804,"y":-0.84},{"x":0.813,"y":-0.90},{"x":0.801,"y":-1.00},{"x":0.818,"y":-1.06},{"x":0.812,"y":-1.15},
{"x":0.838,"y":-0.63},{"x":0.846,"y":-0.70},{"x":0.832,"y":-0.79},{"x":0.843,"y":-0.85},{"x":0.835,"y":-0.95},{"x":0.849,"y":-1.01},{"x":0.842,"y":-1.09},
{"x":0.868,"y":-0.65},{"x":0.876,"y":-0.71},{"x":0.864,"y":-0.81},{"x":0.873,"y":-0.87},{"x":0.861,"y":-0.97},{"x":0.872,"y":-1.04},
{"x":0.898,"y":-0.59},{"x":0.906,"y":-0.66},{"x":0.892,"y":-0.75},{"x":0.903,"y":-0.81},{"x":0.895,"y":-0.91},{"x":0.902,"y":-0.98},
{"x":0.928,"y":-0.61},{"x":0.936,"y":-0.67},{"x":0.924,"y":-0.77},{"x":0.933,"y":-0.83},{"x":0.932,"y":-0.92},
{"x":0.958,"y":-0.54},{"x":0.966,"y":-0.61},{"x":0.952,"y":-0.70},{"x":0.963,"y":-0.76},{"x":0.962,"y":-0.86},
{"x":0.988,"y":-0.55},{"x":0.996,"y":-0.61},{"x":0.984,"y":-0.71},{"x":0.992,"y":-0.80},
{"x":1.018,"y":-0.47},{"x":1.026,"y":-0.54},{"x":1.012,"y":-0.63},{"x":1.022,"y":-0.73},
{"x":1.048,"y":-0.48},{"x":1.056,"y":-0.55},{"x":1.052,"y":-0.66},
{"x":1.078,"y":-0.41},{"x":1.086,"y":-0.48},{"x":1.082,"y":-0.59},
{"x":1.108,"y":-0.36},{"x":1.114,"y":-0.46},{"x":1.128,"y":-0.30},{"x":1.134,"y":-0.40},
{"x":1.178,"y":-0.19},{"x":1.175,"y":-0.11},{"x":0.014,"y":-0.18},{"x":0.011,"y":-0.12}
]
},
"layer": [
{
"data": {"name": "neg"},
"mark": {"type": "circle", "size": 55, "opacity": 0.95},
"encoding": {
"x": {"field": "x", "type": "quantitative", "title": "|Reλ|", "scale": {"domain": [-0.0517, 2.0503], "nice": false, "zero": false}, "axis": {"values": [0, 0.25, 0.5, 0.75, 1, 1.25, 1.5, 1.75, 2], "format": ".2f", "titlePadding": 7}},
"y": {"field": "y", "type": "quantitative", "title": "Imλ", "scale": {"domain": [-2.235, 2.235], "nice": false, "zero": false}, "axis": {"values": [-2, -1.5, -1, -0.5, 0, 0.5, 1, 1.5, 2], "format": ".1f", "titlePadding": 13}},
"color": {"datum": "negative Reλ", "type": "nominal",
"scale": {"domain": ["negative Reλ", "positive Reλ"], "range": ["#ff7f50", "rgba(31,119,180,0.32)"]},
"legend": {"orient": "none", "legendX": 382, "legendY": 11, "title": null, "fillColor": "white", "strokeColor": "#cccccc", "cornerRadius": 4, "padding": 9.5, "labelFont": "DejaVu Sans", "labelFontSize": 22, "labelColor": "black", "symbolType": "circle", "symbolSize": 49, "symbolOffset": 12, "labelOffset": 31, "rowPadding": 10, "symbolStrokeWidth": 0}}
}
},
{
"data": {"name": "pos"},
"mark": {"type": "circle", "size": 200, "opacity": 0.62, "color": "#1f77b4"},
"encoding": {
"x": {"field": "x", "type": "quantitative"},
"y": {"field": "y", "type": "quantitative"}
}
}
],
"config": {
"font": "DejaVu Sans",
"view": {"stroke": "black", "strokeWidth": 1.1},
"axis": {"domain": false, "grid": false, "ticks": true, "tickColor": "black", "tickSize": 5, "tickWidth": 1, "labelFont": "DejaVu Sans", "labelFontSize": 21, "labelColor": "black", "labelPadding": 7, "titleFont": "DejaVu Sans", "titleFontSize": 25, "titleFontWeight": "normal", "titleColor": "black", "labelFlush": false, "labelOverlap": false}
}
}
